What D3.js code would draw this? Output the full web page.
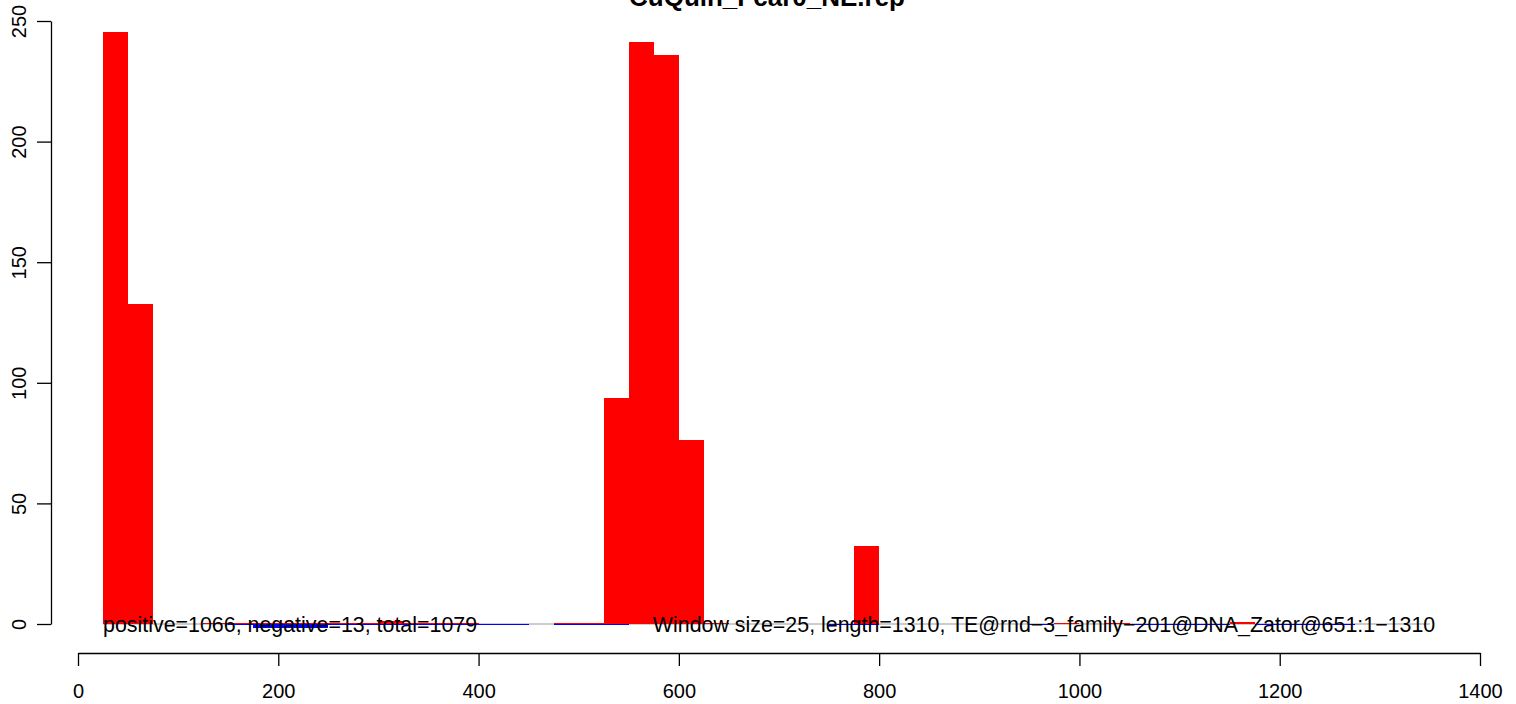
<!DOCTYPE html>
<html>
<head>
<meta charset="utf-8">
<script src="https://cdn.jsdelivr.net/npm/d3@7"></script>
<style>
  html, body { margin: 0; padding: 0; background: #fff; }
  svg { display: block; font-family: "Liberation Sans", Arial, Helvetica, sans-serif; }
</style>
</head>
<body>
<svg id="chart" width="1516" height="704"></svg>
<script>
// ---- Data ----
const title = "CuQuin_Fcar0_NE.rep";
const windowSize = 25;
const windowStarts = d3.range(0, 1350, 25); // 54 windows, 0..1325
// positive coverage per window (start -> value)
const positiveValues = [
  0, 245.4, 132.7, 0, 0, 0.3, 0.3, 0.3, 0.3, 0.3,
  0.3, 0.3, 1.2, 0.3, 0.3, 0.3, 0, 0, 0, 0.3,
  0.3, 93.7, 241.3, 235.9, 76.3, 0.3, 0, 0, 0, 0,
  0, 32.3, 0, 0, 0, 0, 0, 0, 0, 0.5,
  0, 0.3, 0, 0, 0, 0, 1.0, 0, 0, 0,
  0, 0, 0, 0
];
// negative coverage per window (magnitude, drawn below zero)
const negativeValues = [
  0, 0, 0, 0, 0, 0, 0.4, 1.5, 1.7, 1.5,
  0.6, 0.4, 0.4, 0.4, 0.4, 0.4, 0.3, 0.3, 0, 0.3,
  0.3, 0.3, 0, 0, 0, 0, 0, 0, 0, 0,
  0.3, 0.3, 0, 0, 0, 0, 0, 0, 0.3, 0,
  0, 0, 0.3, 0.3, 0.3, 0.3, 0, 0.3, 0.3, 0.3,
  0.3, 0, 0, 0
];
const xTicks = [0, 200, 400, 600, 800, 1000, 1200, 1400];
const yTicks = [0, 50, 100, 150, 200, 250];
const leftNote = "positive=1066, negative=13, total=1079";
const rightNote = "Window size=25, length=1310, TE@rnd\u22123_family\u2212201@DNA_Zator@651:1\u22121310";
const leftNoteX = 25;
const rightNoteX = 574;
const baselineRange = [25, 1350];

// ---- Scales ----
const x = d3.scaleLinear().domain([0, 1400]).range([78, 1480]);
const y = d3.scaleLinear().domain([0, 250]).range([624, 21]);

const svg = d3.select("#chart");

// Title (partly clipped at top as in reference)
svg.append("text")
  .attr("x", 767).attr("y", 6)
  .attr("text-anchor", "middle")
  .attr("font-size", 26).attr("font-weight", "bold")
  .attr("fill", "#000")
  .text(title);

// Gray zero line
svg.append("line")
  .attr("x1", x(baselineRange[0])).attr("x2", x(baselineRange[1]))
  .attr("y1", y(0)).attr("y2", y(0))
  .attr("stroke", "#9a9a9a").attr("stroke-width", 1.2);

const data = windowStarts.map((s, i) => ({ start: s, pos: positiveValues[i], neg: negativeValues[i] }));

// Positive bars (red)
svg.append("g").attr("shape-rendering", "crispEdges")
  .selectAll("rect").data(data.filter(d => d.pos > 0)).join("rect")
  .attr("x", d => x(d.start))
  .attr("width", d => x(d.start + windowSize) - x(d.start))
  .attr("y", d => Math.min(y(d.pos), y(0) - 1))
  .attr("height", d => Math.max(y(0) - y(d.pos), 1))
  .attr("fill", "#ff0000");

// Negative bars (blue) below zero
svg.append("g").attr("shape-rendering", "crispEdges")
  .selectAll("rect").data(data.filter(d => d.neg > 0)).join("rect")
  .attr("x", d => x(d.start))
  .attr("width", d => x(d.start + windowSize) - x(d.start))
  .attr("y", y(0))
  .attr("height", d => Math.max(y(0) - y(d.neg), 1))
  .attr("fill", "#0000ff");

// Notes
svg.append("text")
  .attr("x", x(leftNoteX)).attr("y", y(0) + 7.5)
  .attr("font-size", 21.4).attr("fill", "#000")
  .text(leftNote);
svg.append("text")
  .attr("x", x(rightNoteX)).attr("y", y(0) + 7.5)
  .attr("font-size", 21.4).attr("fill", "#000")
  .text(rightNote);

// X axis
const xAxis = svg.append("g")
  .attr("transform", "translate(0,653)")
  .call(d3.axisBottom(x).tickValues(xTicks).tickFormat(d3.format("d")).tickSize(13).tickSizeOuter(0).tickPadding(18));
xAxis.selectAll("path, line").attr("stroke", "#000").attr("stroke-width", 1.3);
xAxis.selectAll("text").attr("font-size", 20).attr("fill", "#000").attr("font-family", "'Liberation Sans', Arial, sans-serif");

// Y axis
const yAxis = svg.append("g")
  .attr("transform", "translate(51,0)")
  .call(d3.axisLeft(y).tickValues(yTicks).tickFormat(d3.format("d")).tickSize(14).tickSizeOuter(0));
yAxis.selectAll("path, line").attr("stroke", "#000").attr("stroke-width", 1.3);
yAxis.selectAll("text")
  .attr("font-size", 20).attr("fill", "#000")
  .attr("font-family", "'Liberation Sans', Arial, sans-serif")
  .attr("text-anchor", "middle")
  .attr("dy", null)
  .attr("x", null)
  .attr("transform", d => `translate(-32,0) rotate(-90)`)
  .attr("y", 0)
  .attr("dominant-baseline", "central");
</script>
</body>
</html>
